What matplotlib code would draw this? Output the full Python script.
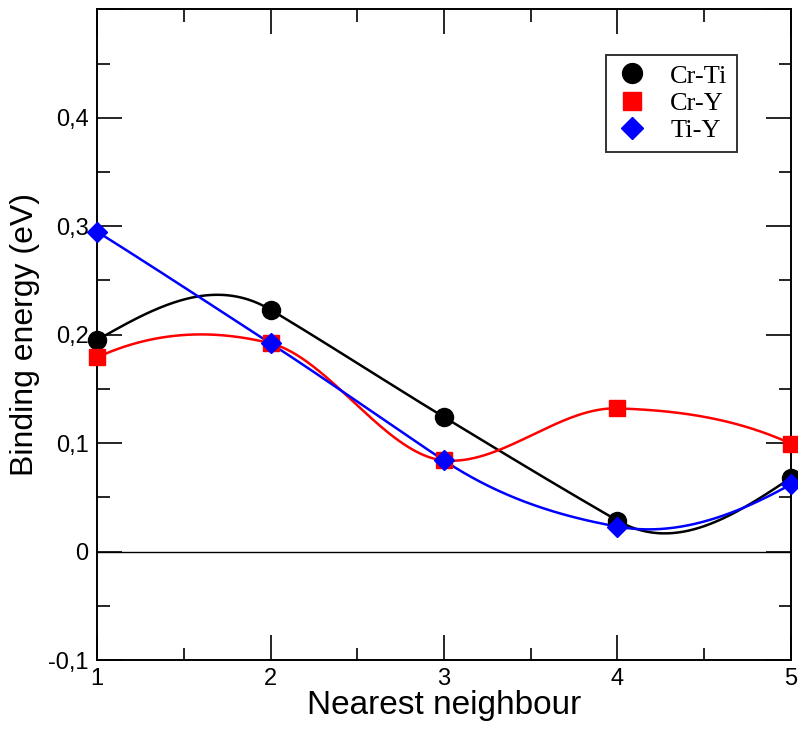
import numpy as np
import matplotlib.pyplot as plt
from matplotlib.ticker import MultipleLocator, FuncFormatter

neighbour = [1, 2, 3, 4, 5]
cr_ti = [0.195, 0.223, 0.124, 0.0286, 0.068]
cr_y = [0.179, 0.192, 0.084, 0.132, 0.0995]
ti_y = [0.295, 0.192, 0.084, 0.023, 0.062]

plt.rcParams["font.family"] = "Liberation Sans"


def akima(x, y, n=400):
    # Akima spline, same kind of smoothing as grace uses
    x = np.asarray(x, float)
    y = np.asarray(y, float)
    k = len(x)
    m = np.diff(y) / np.diff(x)
    mm = np.zeros(k + 3)
    mm[2:k + 1] = m
    mm[1] = 2 * mm[2] - mm[3]
    mm[0] = 2 * mm[1] - mm[2]
    mm[k + 1] = 2 * mm[k] - mm[k - 1]
    mm[k + 2] = 2 * mm[k + 1] - mm[k]
    t = np.zeros(k)
    for i in range(k):
        w1 = abs(mm[i + 3] - mm[i + 2])
        w2 = abs(mm[i + 1] - mm[i])
        if w1 + w2 < 1e-12:
            t[i] = 0.5 * (mm[i + 1] + mm[i + 2])
        else:
            t[i] = (w1 * mm[i + 1] + w2 * mm[i + 2]) / (w1 + w2)
    xs = np.linspace(x[0], x[-1], n)
    idx = np.clip(np.searchsorted(x, xs) - 1, 0, k - 2)
    h = x[idx + 1] - x[idx]
    s = (xs - x[idx]) / h
    h00 = 2 * s ** 3 - 3 * s ** 2 + 1
    h10 = s ** 3 - 2 * s ** 2 + s
    h01 = -2 * s ** 3 + 3 * s ** 2
    h11 = s ** 3 - s ** 2
    ys = h00 * y[idx] + h10 * h * t[idx] + h01 * y[idx + 1] + h11 * h * t[idx + 1]
    return xs, ys


fig = plt.figure(figsize=(7.98, 7.31), dpi=100)
ax = fig.add_axes([0.1216, 0.0971, 0.8696, 0.8902])

ax.axhline(0, color="black", lw=1.0, zorder=1)

series = [
    ("Cr-Ti", cr_ti, "black", "o", 13),
    ("Cr-Y", cr_y, "red", "s", 11.5),
    ("Ti-Y", ti_y, "blue", "D", 10),
]
for z, (name, vals, col, mk, ms) in enumerate(series):
    xs, ys = akima(neighbour, vals)
    ax.plot(xs, ys, color=col, lw=1.8, zorder=2 + z)
    ax.plot(neighbour, vals, ls="none", marker=mk, ms=ms, color=col,
            label=name, zorder=5 + z, clip_on=False)

ax.set_xlim(1, 5)
ax.set_ylim(-0.1, 0.5)
ax.xaxis.set_major_locator(MultipleLocator(1))
ax.xaxis.set_minor_locator(MultipleLocator(0.5))
ax.yaxis.set_major_locator(MultipleLocator(0.1))
ax.yaxis.set_minor_locator(MultipleLocator(0.05))


def comma_fmt(v, pos):
    if abs(v) < 1e-9:
        return "0"
    if v > 0.45:
        return ""
    return f"{v:.1f}".replace(".", ",")


ax.yaxis.set_major_formatter(FuncFormatter(comma_fmt))
ax.tick_params(which="both", direction="in", top=True, right=True,
               labelsize=17, width=1.2, pad=6)
ax.tick_params(which="major", length=18)
ax.tick_params(which="minor", length=9)
for s in ax.spines.values():
    s.set_linewidth(1.4)

ax.set_xlabel("Nearest neighbour", fontsize=24, labelpad=0)
ax.set_ylabel("Binding energy (eV)", fontsize=23, labelpad=6)

leg = ax.legend(loc="upper right", bbox_to_anchor=(0.922, 0.930),
                borderaxespad=0,
                prop={"family": "Liberation Serif", "size": 19},
                frameon=True, fancybox=False, edgecolor="black",
                handletextpad=0.8, borderpad=0.35, labelspacing=0.15,
                handlelength=1.3, markerscale=1.1)
leg.get_frame().set_linewidth(1.4)

fig.savefig("out.png", dpi=100)
